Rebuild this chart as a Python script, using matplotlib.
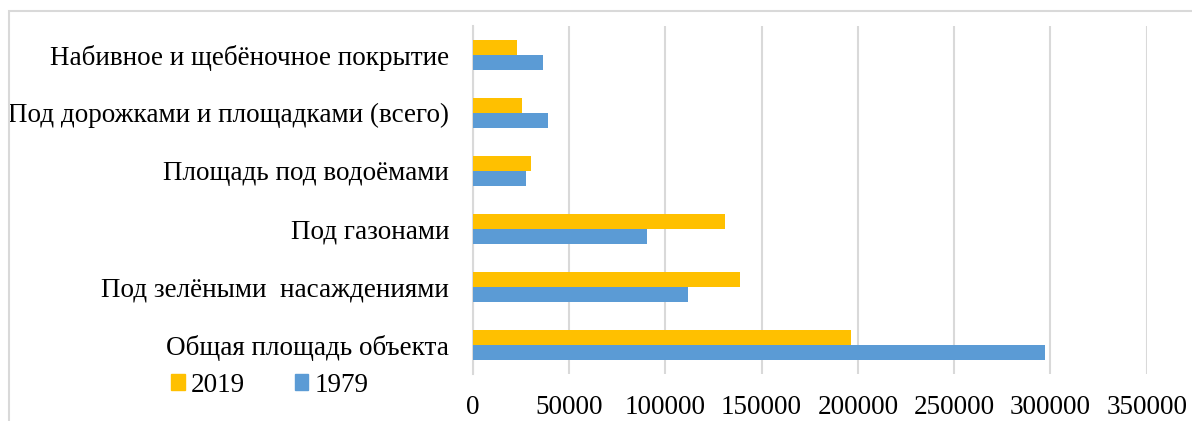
import matplotlib
matplotlib.use("Agg")
import matplotlib.pyplot as plt
from matplotlib.patches import Rectangle, Patch

categories = [
    "Общая площадь объекта",
    "Под зелёными  насаждениями",
    "Под газонами",
    "Площадь под водоёмами",
    "Под дорожками и площадками (всего)",
    "Набивное и щебёночное покрытие",
]
values_2019 = [196500, 139000, 131000, 30200, 25700, 22900]
values_1979 = [297200, 111800, 90400, 27600, 38900, 36250]
xticks = [0, 50000, 100000, 150000, 200000, 250000, 300000, 350000]

C2019 = "#FFC000"
C1979 = "#5B9BD5"
GRID = "#D9D9D9"

plt.rcParams['font.family'] = ['Liberation Serif', 'DejaVu Serif']

W, H = 1192, 421
fig = plt.figure(figsize=(W / 100, H / 100), dpi=100)
ax = fig.add_axes([472.7 / W, 1 - 374 / H, (1146.7 - 472.7) / W, (374 - 25.7) / H])

ypos = list(range(len(categories)))
h = 0.259
ax.barh([y + h / 2 for y in ypos], values_2019, height=h, color=C2019, zorder=3)
ax.barh([y - h / 2 for y in ypos], values_1979, height=h, color=C1979, zorder=3)

ax.set_xlim(0, 350000)
ax.set_ylim(-0.5, len(categories) - 0.5)
ax.set_xticks(xticks)
ax.set_xticklabels([str(v) for v in xticks])
ax.set_yticks(ypos)
ax.set_yticklabels(categories)
ax.tick_params(axis='both', length=0, labelsize=19.5, colors='#000000')
ax.tick_params(axis='x', pad=15)
ax.tick_params(axis='y', pad=17)
ax.grid(axis='x', color=GRID, linewidth=1.5, zorder=0)
for s in ['top', 'right', 'bottom']:
    ax.spines[s].set_visible(False)
ax.spines['left'].set_color(GRID)
ax.spines['left'].set_linewidth(1.5)

# outer frame
fig.patches.append(Rectangle((9 / W, -0.1), 1.2, 1 - 11 / H + 0.1, transform=fig.transFigure,
                             fill=False, edgecolor='#D9D9D9', linewidth=1.5))

handles = [Patch(color=C2019, label='2019'), Patch(color=C1979, label='1979')]
fig.legend(handles=handles, loc='center left', bbox_to_anchor=(171 / W, 1 - 385 / H),
           ncol=2, frameon=False, fontsize=19.5, handlelength=0.5, handleheight=0.5,
           handletextpad=0.22, columnspacing=1.85, borderaxespad=0, borderpad=0)

fig.savefig("out.png", dpi=100)
